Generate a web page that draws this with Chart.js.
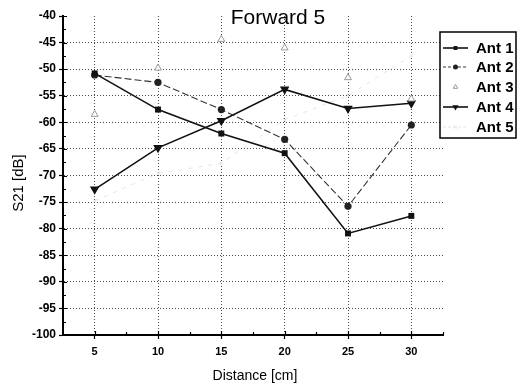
<!DOCTYPE html>
<html>
<head>
<meta charset="utf-8">
<script src="https://cdn.jsdelivr.net/npm/chart.js@4/dist/chart.umd.min.js"></script>
<style>
  html, body { margin: 0; padding: 0; background: #fff; }
  #wrap { width: 522px; height: 386px; }
</style>
</head>
<body>
<div id="wrap"><canvas id="c" width="522" height="386"></canvas></div>
<script>
const titleText = 'Forward 5';
const xLabel = 'Distance [cm]';
const yLabel = 'S21 [dB]';
const distance = [5, 10, 15, 20, 25, 30];
const xTicks = [5, 10, 15, 20, 25, 30];
const yTicks = [-100, -95, -90, -85, -80, -75, -70, -65, -60, -55, -50, -45, -40];
const seriesNames = ['Ant 1', 'Ant 2', 'Ant 3', 'Ant 4', 'Ant 5'];
const ant1 = [-50.8, -57.6, -62.1, -65.8, -80.9, -77.6];
const ant2 = [-51.1, -52.5, -57.6, -63.2, -75.8, -60.5];
const ant3 = [-58.5, -49.8, -44.4, -46.0, -51.6, -55.6];
const ant4 = [-72.6, -64.8, -59.7, -53.8, -57.4, -56.4];
const ant5 = [-74.8, -69.6, -67.7, -59.5, -55.0, -47.5];

const FONT = '"Liberation Sans", Arial, sans-serif';
const pts = arr => arr.map((v, i) => ({ x: distance[i], y: v }));

const datasets = [
  { label: seriesNames[0], data: pts(ant1), borderColor: '#111', backgroundColor: '#111',
    borderWidth: 1.6, pointStyle: 'rect', pointRadius: 4.2, pointBorderWidth: 0, showLine: true },
  { label: seriesNames[1], data: pts(ant2), borderColor: '#333', backgroundColor: '#222',
    borderWidth: 1.1, borderDash: [7, 3], pointStyle: 'circle', pointRadius: 3.6, pointBorderWidth: 0, showLine: true },
  { label: seriesNames[2], data: pts(ant3), borderColor: '#999', backgroundColor: '#fff',
    borderWidth: 1, pointStyle: 'triangle', pointRadius: 4, pointBorderWidth: 1, showLine: false },
  { label: seriesNames[3], data: pts(ant4), borderColor: '#111', backgroundColor: '#111',
    borderWidth: 1.6, pointStyle: 'triangle', pointRotation: 180, pointRadius: 5.5, pointBorderWidth: 0, showLine: true },
  { label: seriesNames[4], data: pts(ant5), borderColor: '#e4e4e4', backgroundColor: '#d4d4d4',
    borderWidth: 1, borderDash: [4, 6], pointStyle: 'crossRot', pointRadius: 2.5, pointBorderWidth: 1, showLine: true }
];

const decor = {
  id: 'decor',
  afterDraw(chart) {
    const ctx = chart.ctx;
    const xs = chart.scales.x, ys = chart.scales.y;
    const ca = chart.chartArea;
    ctx.save();
    // minor / inner ticks
    ctx.strokeStyle = '#000';
    ctx.lineWidth = 1.2;
    ctx.beginPath();
    for (let v = -97.5; v < -40; v += 5) {
      const y = Math.round(ys.getPixelForValue(v)) + 0.5;
      ctx.moveTo(ca.left, y); ctx.lineTo(ca.left + 3, y);
    }
    for (const v of yTicks) {
      const y = Math.round(ys.getPixelForValue(v)) + 0.5;
      ctx.moveTo(ca.left, y); ctx.lineTo(ca.left + 4, y);
    }
    for (let v = 7.5; v <= 32.5; v += 5) {
      const x = Math.round(xs.getPixelForValue(v)) + 0.5;
      ctx.moveTo(x, ca.bottom); ctx.lineTo(x, ca.bottom - 3);
    }
    for (const v of xTicks) {
      const x = Math.round(xs.getPixelForValue(v)) + 0.5;
      ctx.moveTo(x, ca.bottom); ctx.lineTo(x, ca.bottom - 4);
    }
    ctx.stroke();

    // title
    ctx.fillStyle = '#000';
    ctx.font = '21px ' + FONT;
    ctx.textAlign = 'center';
    ctx.textBaseline = 'alphabetic';
    ctx.fillText(titleText, 278, 24);

    // axis titles
    ctx.font = '14px ' + FONT;
    ctx.fillText(xLabel, 255, 380);
    ctx.save();
    ctx.translate(23, 183);
    ctx.rotate(-Math.PI / 2);
    ctx.font = '15px ' + FONT;
    ctx.fillText(yLabel, 0, 0);
    ctx.restore();

    // legend
    const bx = 440, by = 32, bw = 76, bh = 106;
    ctx.fillStyle = '#fff';
    ctx.fillRect(bx, by, bw, bh);
    ctx.strokeStyle = '#000';
    ctx.lineWidth = 1.5;
    ctx.strokeRect(bx, by, bw, bh);
    const rowY = [48, 67, 87, 107, 127];
    chart.data.datasets.forEach((ds, i) => {
      const y = rowY[i];
      if (ds.showLine) {
        ctx.save();
        ctx.strokeStyle = ds.borderColor;
        ctx.lineWidth = ds.borderWidth;
        ctx.setLineDash(ds.borderDash ? [3, 2] : []);
        ctx.beginPath();
        ctx.moveTo(443, y); ctx.lineTo(468, y);
        ctx.stroke();
        ctx.restore();
      }
      ctx.save();
      ctx.fillStyle = ds.backgroundColor;
      ctx.strokeStyle = ds.borderColor;
      ctx.lineWidth = ds.pointBorderWidth || 0.01;
      Chart.helpers.drawPoint(ctx, {
        pointStyle: ds.pointStyle, rotation: ds.pointRotation || 0,
        radius: Math.max(2.5, ds.pointRadius * 0.65), borderWidth: ds.pointBorderWidth
      }, 455.5, y);
      ctx.restore();
      ctx.fillStyle = '#000';
      ctx.font = 'bold 15px ' + FONT;
      ctx.textAlign = 'left';
      ctx.textBaseline = 'middle';
      ctx.fillText(ds.label, 476, y + 1);
    });
    ctx.restore();
  }
};

new Chart(document.getElementById('c'), {
  type: 'line',
  data: { datasets },
  options: {
    responsive: false,
    animation: false,
    devicePixelRatio: 1,
    layout: { padding: { top: 16, right: 79, left: 0, bottom: 0 } },
    plugins: { legend: { display: false }, title: { display: false }, tooltip: { enabled: false } },
    scales: {
      x: {
        type: 'linear', min: 2.5, max: 32.5,
        afterBuildTicks: s => { s.ticks = xTicks.map(v => ({ value: v })); },
        afterFit: s => { s.height = 51; },
        ticks: { color: '#000', font: { family: FONT, size: 11, weight: 'bold' }, padding: 6, maxRotation: 0 },
        grid: { color: '#4a4a4a', lineWidth: 1, tickColor: '#000', tickLength: 4, tickWidth: 1.2, tickBorderDash: [] },
        border: { display: true, color: '#000', width: 2, dash: [1, 2] }
      },
      y: {
        type: 'linear', min: -100, max: -40,
        afterBuildTicks: s => { s.ticks = yTicks.map(v => ({ value: v })); },
        afterFit: s => { s.width = 63; },
        ticks: { color: '#000', font: { family: FONT, size: 12, weight: 'bold' }, padding: 3 },
        grid: {
          color: c => (c.tick && (c.tick.value === -40 || c.tick.value === -100)) ? 'rgba(0,0,0,0)' : '#4a4a4a',
          lineWidth: 1, tickColor: '#000', tickLength: 4, tickWidth: 1.2, tickBorderDash: []
        },
        border: { display: true, color: '#000', width: 2, dash: [1, 2] }
      }
    }
  },
  plugins: [decor]
});
</script>
</body>
</html>
